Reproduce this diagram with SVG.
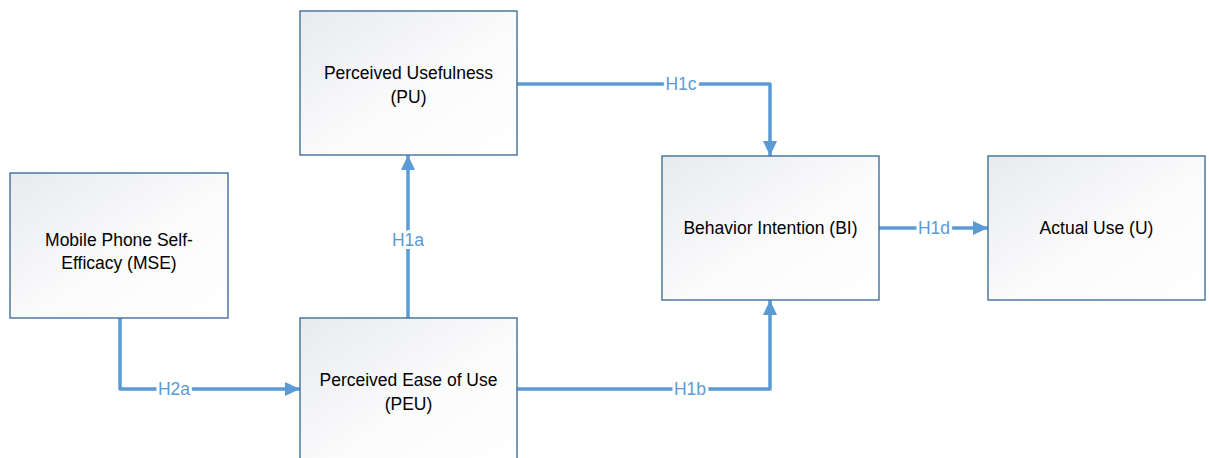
<svg xmlns="http://www.w3.org/2000/svg" width="1209" height="458" viewBox="0 0 1209 458">
<defs>
<linearGradient id="g" x1="0" y1="0" x2="1" y2="1">
<stop offset="0" stop-color="#e8eaee"/>
<stop offset="0.55" stop-color="#fbfbfc"/>
<stop offset="1" stop-color="#ffffff"/>
</linearGradient>
<marker id="ah" markerUnits="userSpaceOnUse" markerWidth="16" markerHeight="15" refX="15" refY="7" orient="auto" viewBox="0 0 16 15">
<path d="M0,0 L15,7 L0,14 z" fill="#5b9bd5"/>
</marker>
<style>
.box{fill:url(#g);stroke:#41719c;stroke-width:1.4}
.t{font-family:"Liberation Sans",Arial,sans-serif;font-size:17.5px;fill:#000;text-anchor:middle}
.c{fill:none;stroke:#5b9bd5;stroke-width:3.5;stroke-linejoin:round;marker-end:url(#ah)}
.l{font-family:"Liberation Sans",Arial,sans-serif;font-size:17.5px;fill:#5b9bd5;text-anchor:middle;stroke:#fff;stroke-width:6;paint-order:stroke;stroke-linejoin:round}
</style>
</defs>
<rect width="1209" height="458" fill="#fff"/>
<g id="connectors">
<path class="c" d="M120,318 V389 H300"/>
<path class="c" d="M408,318 V155"/>
<path class="c" d="M517,84 H770 V156"/>
<path class="c" d="M517,389 H770 V300"/>
<path class="c" d="M879,228 H988"/>
<text class="l" x="174" y="395">H2a</text>
<text class="l" x="408" y="246">H1a</text>
<text class="l" x="681" y="90">H1c</text>
<text class="l" x="690" y="395">H1b</text>
<text class="l" x="934" y="234">H1d</text>
</g>
<g id="pu">
<rect class="box" x="300" y="11" width="217" height="144"/>
<text class="t" x="408.5" y="79">Perceived Usefulness</text>
<text class="t" x="408.5" y="103">(PU)</text>
</g>
<g id="mse">
<rect class="box" x="10" y="173" width="218" height="145"/>
<text class="t" x="119" y="246">Mobile Phone Self-</text>
<text class="t" x="119" y="269">Efficacy (MSE)</text>
</g>
<g id="peu">
<rect class="box" x="300" y="318" width="217" height="150"/>
<text class="t" x="408.5" y="386">Perceived Ease of Use</text>
<text class="t" x="408.5" y="410">(PEU)</text>
</g>
<g id="bi">
<rect class="box" x="662" y="156" width="217" height="144"/>
<text class="t" x="770.5" y="234">Behavior Intention (BI)</text>
</g>
<g id="u">
<rect class="box" x="988" y="156" width="217" height="144"/>
<text class="t" x="1096.5" y="234">Actual Use (U)</text>
</g>
</svg>
